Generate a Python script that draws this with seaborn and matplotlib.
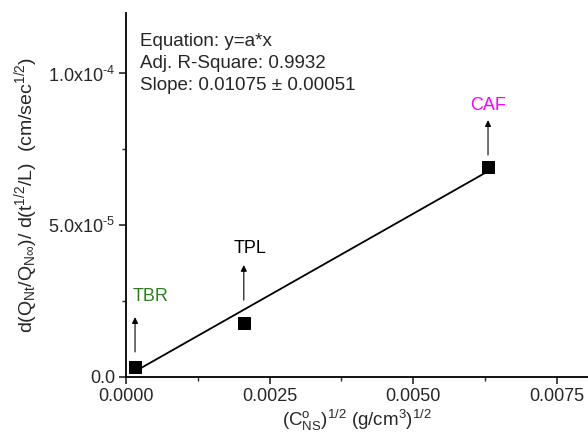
import numpy as np
import pandas as pd
import matplotlib
matplotlib.use("Agg")
import matplotlib.pyplot as plt
from matplotlib.ticker import FixedLocator
import seaborn as sns

# data
drugs = ["TBR", "TPL", "CAF"]
conc_sqrt = [0.000157, 0.00205, 0.0063]
rate = [3.0e-6, 1.78e-5, 6.93e-5]
label_colors = ["#2e7d1e", "black", "#ff00ff"]
slope = 0.01075

sns.set_theme(style="ticks")
plt.rcParams["font.family"] = ["Liberation Sans", "DejaVu Sans"]
plt.rcParams["mathtext.fontset"] = "custom"
plt.rcParams["mathtext.rm"] = "Liberation Sans"
plt.rcParams["mathtext.it"] = "Liberation Sans"
plt.rcParams["mathtext.bf"] = "Liberation Sans:bold"

df = pd.DataFrame({"x": conc_sqrt, "y": rate, "drug": drugs})
xfit = np.array([min(conc_sqrt), max(conc_sqrt)])
fit = pd.DataFrame({"x": xfit, "y": slope * xfit})

fig = plt.figure(figsize=(5.88, 4.44), dpi=100)
ax = fig.add_axes([0.2143, 0.152, 0.7857, 0.819])

sns.lineplot(data=fit, x="x", y="y", color="black", lw=1.3, ax=ax)
sns.scatterplot(data=df, x="x", y="y", marker="s", s=80, color="black",
                edgecolor="black", ax=ax, zorder=3)

# arrow start, arrow tip and label baseline (above each point)
arrow_start = [8.1e-6, 2.52e-5, 7.31e-5]
arrow_tip = [1.96e-5, 3.68e-5, 8.46e-5]
label_y = [2.49e-5, 4.08e-5, 8.8e-5]
label_x = [0.000122, 0.00188, 0.00598]
for i, row in df.iterrows():
    ax.annotate("", xy=(row.x, arrow_tip[i]), xytext=(row.x, arrow_start[i]),
                arrowprops=dict(arrowstyle="-|>", color="black", lw=0.8,
                                mutation_scale=9, shrinkA=0, shrinkB=0))
    ax.text(label_x[i], label_y[i], row.drug, color=label_colors[i],
            fontsize=13, ha="left", va="baseline")

fig.text(140 / 588, 1 - 33 / 444,
         "Equation: y=a*x\nAdj. R-Square: 0.9932\nSlope: 0.01075 \u00b1 0.00051",
         fontsize=13.5, va="top", ha="left", linespacing=1.4)

ax.set_xlim(0, 0.00804)
ax.set_ylim(0, 1.2e-4)
ax.xaxis.set_major_locator(FixedLocator([0, 0.0025, 0.005, 0.0075]))
ax.xaxis.set_minor_locator(FixedLocator([0.00125, 0.00375, 0.00625]))
ax.set_xticklabels(["0.0000", "0.0025", "0.0050", "0.0075"])
ax.yaxis.set_major_locator(FixedLocator([0, 5e-5, 1e-4]))
ax.yaxis.set_minor_locator(FixedLocator([2.5e-5, 7.5e-5]))
ax.set_yticklabels(["0.0", r"5.0x10$^{\text{-}5}$", r"1.0x10$^{\text{-}4}$"])
ax.tick_params(which="major", length=5, width=1.2, labelsize=13, direction="out", pad=3)
ax.tick_params(which="minor", length=3, width=1.0, direction="out")

for s in ["left", "bottom"]:
    ax.spines[s].set_linewidth(1.3)
    ax.spines[s].set_color("black")
sns.despine(ax=ax)

ax.set_xlabel(r"(C$^{\rm o}_{\rm NS}$)$^{1/2}$ (g/cm$^{3}$)$^{1/2}$", fontsize=13.5, labelpad=2)
ax.set_ylabel(r"d(Q$_{\rm Nt}$/Q$_{\rm N\infty}$)/ d(t$^{1/2}$/L)  (cm/sec$^{1/2}$)",
              fontsize=14, labelpad=6)

fig.savefig("out.png", dpi=100)
